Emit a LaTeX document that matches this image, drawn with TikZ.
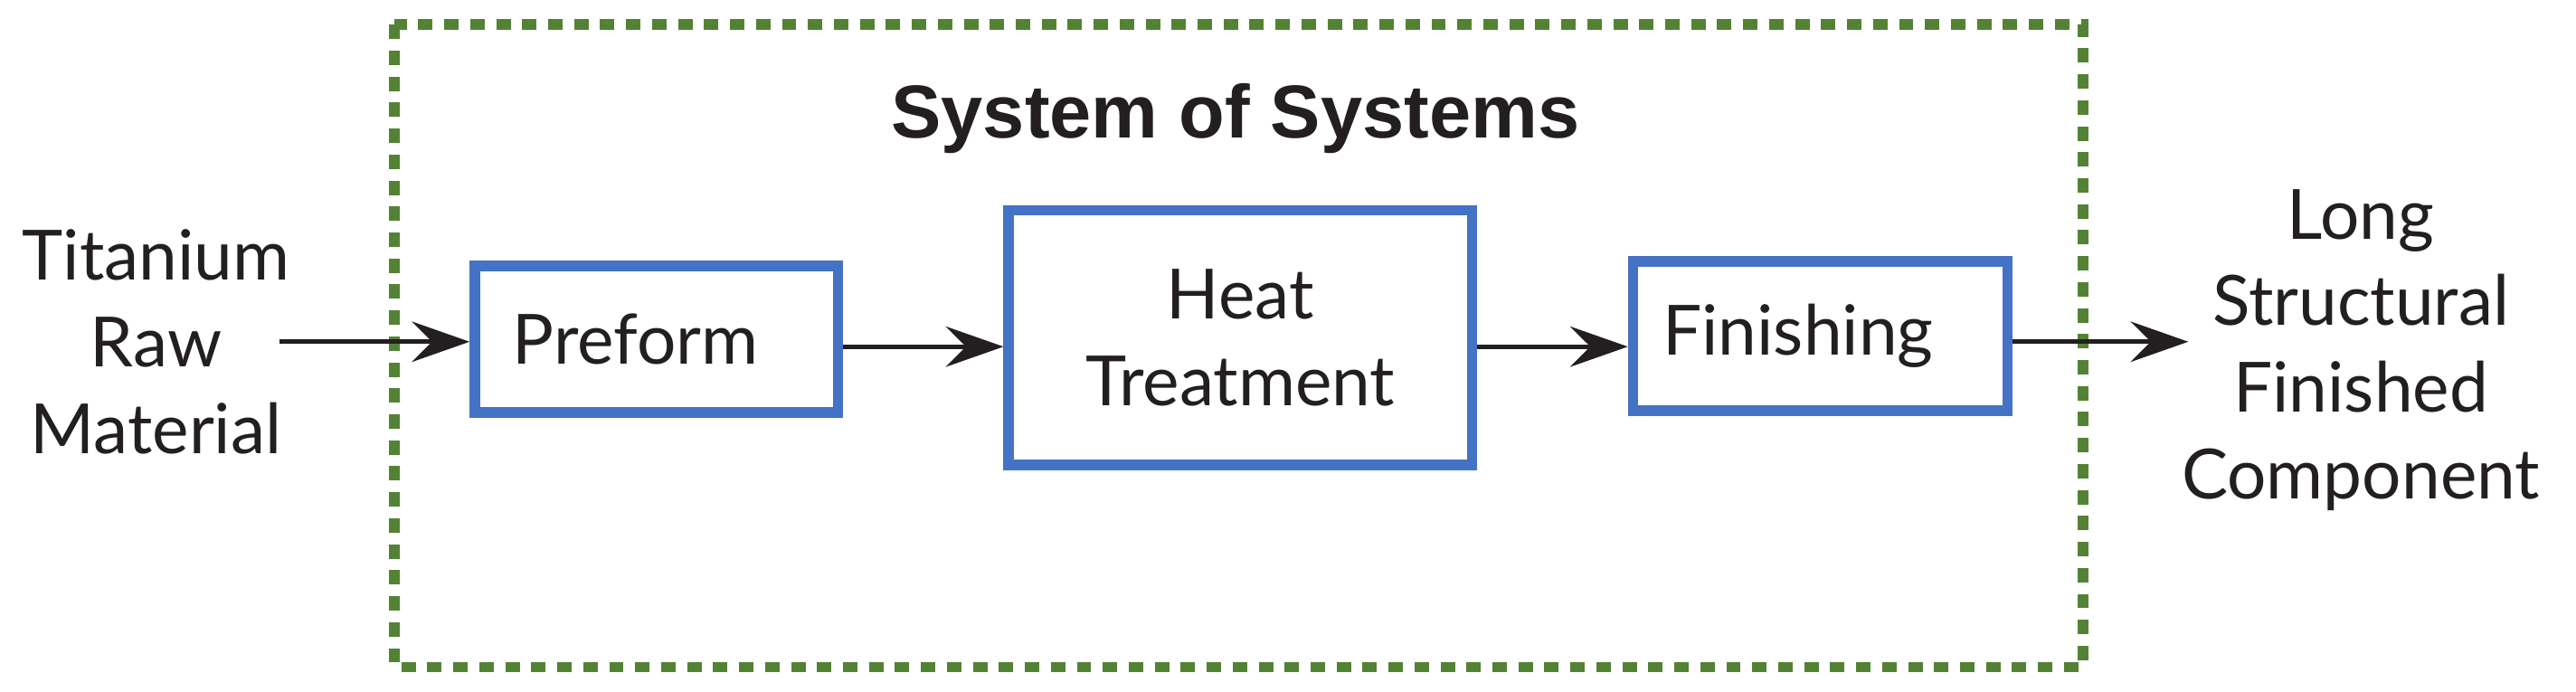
\documentclass[tikz,border=0pt]{standalone}
\usepackage{fontspec}
\setmainfont{Lato}
\newfontfamily\titlefont{Liberation Sans}
\usetikzlibrary{arrows.meta}
\definecolor{boxblue}{RGB}{68,114,196}
\definecolor{dashgreen}{RGB}{84,130,53}
\definecolor{ink}{RGB}{35,31,32}
\begin{document}
\begin{tikzpicture}[x=0.02cm,y=-0.02cm,
  blk/.style={draw=boxblue,line width=3.6pt,font=\fontsize{24}{30}\selectfont,text=ink,align=center,inner sep=0pt},
  lbl/.style={align=center,font=\fontsize{24}{30}\selectfont,text=ink},
  arr/.style={draw=ink,line width=1.5pt,-{Stealth[length=20pt,width=14pt,inset=7pt]}}]
\useasboundingbox (0,0) rectangle (1568,421);
\draw[dashgreen,line width=3.6pt,dash pattern=on 5pt off 4pt] (240,15) rectangle (1268,406);
\node[font=\titlefont\bfseries\fontsize{26}{30}\selectfont,text=ink] (title) at (752,72) {System of Systems};
\node[blk,align=left,inner xsep=0.46cm,text width=3.5cm,minimum height=89*0.02cm] (pre) at (399.5,206.5) {Preform};
\node[blk,minimum width=282*0.02cm,minimum height=155*0.02cm] (heat) at (755,205.5) {Heat\\Treatment};
\node[blk,align=left,inner xsep=0.36cm,text width=3.84cm,minimum height=91*0.02cm] (fin) at (1108,204.5) {Finishing};
\node[lbl] (raw) at (95,208) {Titanium\\Raw\\Material};
\coordinate (rawR) at (170,208);
\node[lbl] (out) at (1437,213) {Long\\Structural\\Finished\\Component};
\coordinate (outL) at (1332,208);
\draw[arr] (rawR) -- (pre.west |- rawR);
\draw[arr] (pre.east |- 0,211) -- (heat.west |- 0,211);
\draw[arr] (heat.east |- 0,211) -- (fin.west |- 0,211);
\draw[arr] (fin.east |- outL) -- (outL);
\end{tikzpicture}
\end{document}
